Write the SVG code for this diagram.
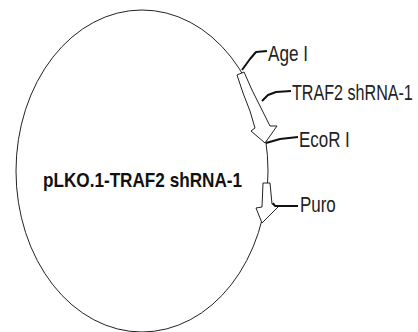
<svg xmlns="http://www.w3.org/2000/svg" width="418" height="332" viewBox="0 0 418 332">
<style>
.bb{fill:#fff;stroke:#222;stroke-width:1}
.arr{fill:#fff;stroke:#222;stroke-width:1;stroke-linejoin:round}
.lead{fill:none;stroke:#111;stroke-width:2;stroke-linejoin:round}
.lbl{font-family:"Liberation Sans Narrow","Liberation Sans",Arial,sans-serif;font-size:22px;fill:#222}
.title{font-family:"Liberation Sans Narrow","Liberation Sans",Arial,sans-serif;font-size:21px;font-weight:bold;fill:#111}
</style>
<rect width="418" height="332" fill="#fff"/>
<g id="plasmid">
<ellipse class="bb" cx="142" cy="171" rx="126" ry="161"/>
<text class="title" x="43" y="187" textLength="199" lengthAdjust="spacingAndGlyphs">pLKO.1-TRAF2 shRNA-1</text>
</g>
<g id="traf2-shrna">
<polygon class="arr" points="237,75 243,93 250,111 255,128 251,131 265,143 277,126 270,126 262,110 252,90 244,72"/>
</g>
<g id="puro">
<polygon class="arr" points="263,183 270,183 272,204 278,207 262,223 256,208 262,207"/>
</g>
<g id="connectors">
<polyline class="lead" points="242,70 250,59 256,52 267,51"/>
<polyline class="lead" points="262,101 268,95 276,92 291,91"/>
<polyline class="lead" points="266,143 280,139 298,137"/>
<polyline class="lead" points="273,203 275,206 298,206"/>
</g>
<g id="label-agei"><text class="lbl" transform="translate(268,61) scale(0.78,1)">Age I</text></g>
<g id="label-traf2"><text class="lbl" transform="translate(292,100) scale(0.733,1)">TRAF2 shRNA-1</text></g>
<g id="label-ecori"><text class="lbl" transform="translate(299,147) scale(0.77,1)">EcoR I</text></g>
<g id="label-puro"><text class="lbl" transform="translate(300,212) scale(0.77,1)">Puro</text></g>
</svg>
